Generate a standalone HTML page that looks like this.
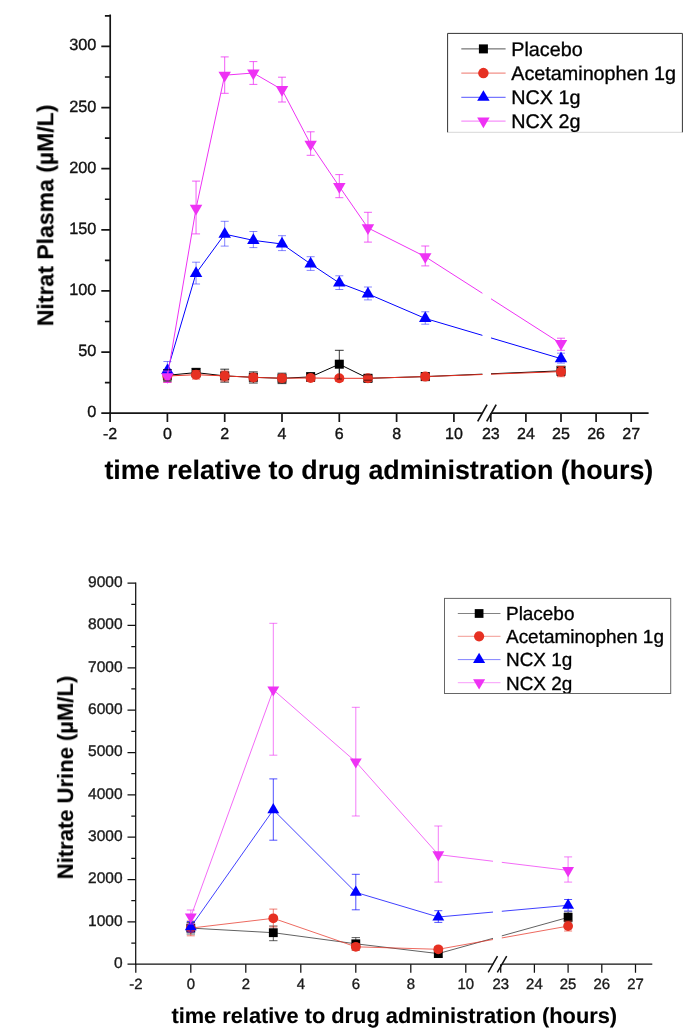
<!DOCTYPE html>
<html><head><meta charset="utf-8"><title>Nitrate plasma / urine</title>
<style>
html,body{margin:0;padding:0;background:#fff;}
body{width:685px;height:1030px;overflow:hidden;font-family:"Liberation Sans",sans-serif;}
svg{display:block;}
text{text-rendering:geometricPrecision;stroke:#111;stroke-width:0.35px;paint-order:stroke fill;}
text[font-weight=bold]{stroke-width:0.12px;}
</style></head><body>
<svg width="685" height="1030" viewBox="0 0 685 1030">
<defs><filter id="soft" filterUnits="userSpaceOnUse" x="0" y="0" width="685" height="1030" color-interpolation-filters="sRGB"><feGaussianBlur stdDeviation="0.38"/></filter></defs>
<rect width="685" height="1030" fill="#fff"/>
<g filter="url(#soft)">
<g stroke="#151515" stroke-width="1.7" fill="none" stroke-linecap="butt">
<path d="M110.2 14.6V414"/>
<path d="M109.35 413.15H482.4M491 413.15H648.6"/>
<path d="M101.3 413.15H110.2M101.3 352.03H110.2M101.3 290.92H110.2M101.3 229.8H110.2M101.3 168.69H110.2M101.3 107.57H110.2M101.3 46.46H110.2M104.9 382.59H110.2M104.9 321.48H110.2M104.9 260.36H110.2M104.9 199.25H110.2M104.9 138.13H110.2M104.9 77.02H110.2M104.9 15.9H110.2M110.1 413.15V421.95M167.4 413.15V421.95M224.7 413.15V421.95M282 413.15V421.95M339.3 413.15V421.95M396.6 413.15V421.95M453.9 413.15V421.95M490.8 413.15V421.95M525.9 413.15V421.95M561 413.15V421.95M596.1 413.15V421.95M631.2 413.15V421.95"/>
<path d="M477.7 421.4L487.1 404.7M486.7 421.4L496.2 404.7" stroke-width="1.7"/>
</g>
<g font-family="Liberation Sans, sans-serif" font-size="16px" fill="#111">
<text x="96.3" y="417.15" text-anchor="end" font-size="16.3px">0</text>
<text x="96.3" y="356.03" text-anchor="end" font-size="16.3px">50</text>
<text x="96.3" y="294.92" text-anchor="end" font-size="16.3px">100</text>
<text x="96.3" y="233.8" text-anchor="end" font-size="16.3px">150</text>
<text x="96.3" y="172.69" text-anchor="end" font-size="16.3px">200</text>
<text x="96.3" y="111.57" text-anchor="end" font-size="16.3px">250</text>
<text x="96.3" y="50.46" text-anchor="end" font-size="16.3px">300</text>
<text x="110.1" y="439.2" text-anchor="middle">-2</text>
<text x="167.4" y="439.2" text-anchor="middle">0</text>
<text x="224.7" y="439.2" text-anchor="middle">2</text>
<text x="282" y="439.2" text-anchor="middle">4</text>
<text x="339.3" y="439.2" text-anchor="middle">6</text>
<text x="396.6" y="439.2" text-anchor="middle">8</text>
<text x="453.9" y="439.2" text-anchor="middle">10</text>
<text x="490.8" y="439.2" text-anchor="middle">23</text>
<text x="525.9" y="439.2" text-anchor="middle">24</text>
<text x="561" y="439.2" text-anchor="middle">25</text>
<text x="596.1" y="439.2" text-anchor="middle">26</text>
<text x="631.2" y="439.2" text-anchor="middle">27</text>
</g>
<text x="104.4" y="478.5" font-family="Liberation Sans, sans-serif" font-weight="bold" font-size="26.85px" fill="#000">time relative to drug administration (hours)</text>
<text transform="translate(53.3 326.2) rotate(-90)" font-family="Liberation Sans, sans-serif" font-weight="bold" font-size="23px" fill="#000">Nitrat Plasma (µM/L)</text>
<path d="M167.4 375.3L196.05 372.6M196.05 372.6L224.7 375.9M224.7 375.9L253.35 377.3M253.35 377.3L282 378.3M282 378.3L310.65 376.9M310.65 376.9L339.3 364.2M339.3 364.2L367.95 378.3M367.95 378.3L425.25 376.6M425.25 376.6L482.4 374.16M491 373.79L561 370.8" stroke="#000000" stroke-width="1.0" fill="none" stroke-opacity="1.0"/>
<path d="M167.4 369.6V380.9M163 369.6H171.8M163 380.9H171.8M196.05 368.3V377M191.65 368.3H200.45M191.65 377H200.45M224.7 369.2V382.1M220.3 369.2H229.1M220.3 382.1H229.1M253.35 371.9V383M248.95 371.9H257.75M248.95 383H257.75M282 373.2V383.6M277.6 373.2H286.4M277.6 383.6H286.4M310.65 372.6V381.4M306.25 372.6H315.05M306.25 381.4H315.05M339.3 350.3V379.6M334.9 350.3H343.7M334.9 379.6H343.7M367.95 375V381.5M363.55 375H372.35M363.55 381.5H372.35M425.25 373V380M420.85 373H429.65M420.85 380H429.65M561 366.2V375.5M556.6 366.2H565.4M556.6 375.5H565.4" stroke="#000000" stroke-width="0.8" fill="none" stroke-opacity="1.0"/>
<rect x="162.9" y="370.8" width="9" height="9" fill="#000000"/>
<rect x="191.55" y="368.1" width="9" height="9" fill="#000000"/>
<rect x="220.2" y="371.4" width="9" height="9" fill="#000000"/>
<rect x="248.85" y="372.8" width="9" height="9" fill="#000000"/>
<rect x="277.5" y="373.8" width="9" height="9" fill="#000000"/>
<rect x="306.15" y="372.4" width="9" height="9" fill="#000000"/>
<rect x="334.8" y="359.7" width="9" height="9" fill="#000000"/>
<rect x="363.45" y="373.8" width="9" height="9" fill="#000000"/>
<rect x="420.75" y="372.1" width="9" height="9" fill="#000000"/>
<rect x="556.5" y="366.3" width="9" height="9" fill="#000000"/>
<path d="M167.4 376L196.05 374.7M196.05 374.7L224.7 375.9M224.7 375.9L253.35 377.4M253.35 377.4L282 378.2M282 378.2L310.65 378M310.65 378L339.3 378.3M339.3 378.3L367.95 378.3M367.95 378.3L425.25 376.6M425.25 376.6L482.4 374.5M491 374.18L561 371.6" stroke="#e63022" stroke-width="1.0" fill="none" stroke-opacity="1.0"/>
<path d="M167.4 371V382.3M163.4 371H171.4M163.4 382.3H171.4M196.05 370.5V379M192.05 370.5H200.05M192.05 379H200.05M224.7 371V381M220.7 371H228.7M220.7 381H228.7M253.35 374V380.8M249.35 374H257.35M249.35 380.8H257.35M282 374.5V381.8M278 374.5H286M278 381.8H286M310.65 375V381M306.65 375H314.65M306.65 381H314.65M339.3 375.5V381.5M335.3 375.5H343.3M335.3 381.5H343.3M367.95 375.5V381.5M363.95 375.5H371.95M363.95 381.5H371.95M425.25 373.5V380M421.25 373.5H429.25M421.25 380H429.25M561 366.5V376.7M557 366.5H565M557 376.7H565" stroke="#e63022" stroke-width="0.8" fill="none" stroke-opacity="1.0"/>
<circle cx="167.4" cy="376" r="5" fill="#e63022"/>
<circle cx="196.05" cy="374.7" r="5" fill="#e63022"/>
<circle cx="224.7" cy="375.9" r="5" fill="#e63022"/>
<circle cx="253.35" cy="377.4" r="5" fill="#e63022"/>
<circle cx="282" cy="378.2" r="5" fill="#e63022"/>
<circle cx="310.65" cy="378" r="5" fill="#e63022"/>
<circle cx="339.3" cy="378.3" r="5" fill="#e63022"/>
<circle cx="367.95" cy="378.3" r="5" fill="#e63022"/>
<circle cx="425.25" cy="376.6" r="5" fill="#e63022"/>
<circle cx="561" cy="371.6" r="5" fill="#e63022"/>
<path d="M339.3 369V379M336.8 379H341.8M363.95 374.8H371.95M363.95 380.2H371.95" stroke="#000" stroke-width="0.9" stroke-opacity="0.65" fill="none"/>
<path d="M167.4 370.55L196.05 273.35M196.05 273.35L224.7 234.15M224.7 234.15L253.35 240.35M253.35 240.35L282 244M282 244L310.65 263.95M310.65 263.95L339.3 282.95M339.3 282.95L367.95 293.85M367.95 293.85L425.25 318.45M425.25 318.45L482.4 335.37M491 337.92L561 358.65" stroke="#0000ff" stroke-width="1.0" fill="none" stroke-opacity="1.0"/>
<path d="M167.4 361.5V378.5M163.4 361.5H171.4M163.4 378.5H171.4M196.05 262.2V284M192.05 262.2H200.05M192.05 284H200.05M224.7 221.3V246.1M220.7 221.3H228.7M220.7 246.1H228.7M253.35 231.5V247.6M249.35 231.5H257.35M249.35 247.6H257.35M282 235.7V250.6M278 235.7H286M278 250.6H286M310.65 256.7V270.4M306.65 256.7H314.65M306.65 270.4H314.65M339.3 275.8V289.5M335.3 275.8H343.3M335.3 289.5H343.3M367.95 287V299.9M363.95 287H371.95M363.95 299.9H371.95M425.25 311.8V324.2M421.25 311.8H429.25M421.25 324.2H429.25M561 353.2V363.1M557 353.2H565M557 363.1H565" stroke="#0000ff" stroke-width="0.8" fill="none" stroke-opacity="0.6"/>
<path d="M167.4 363.42L173.65 374.12L161.15 374.12Z" fill="#0000ff"/>
<path d="M196.05 266.22L202.3 276.92L189.8 276.92Z" fill="#0000ff"/>
<path d="M224.7 227.02L230.95 237.72L218.45 237.72Z" fill="#0000ff"/>
<path d="M253.35 233.22L259.6 243.92L247.1 243.92Z" fill="#0000ff"/>
<path d="M282 236.87L288.25 247.57L275.75 247.57Z" fill="#0000ff"/>
<path d="M310.65 256.82L316.9 267.52L304.4 267.52Z" fill="#0000ff"/>
<path d="M339.3 275.82L345.55 286.52L333.05 286.52Z" fill="#0000ff"/>
<path d="M367.95 286.72L374.2 297.42L361.7 297.42Z" fill="#0000ff"/>
<path d="M425.25 311.32L431.5 322.02L419 322.02Z" fill="#0000ff"/>
<path d="M561 351.52L567.25 362.22L554.75 362.22Z" fill="#0000ff"/>
<path d="M167.4 376.7L196.05 208.4M196.05 208.4L224.7 75.2M224.7 75.2L253.35 73M253.35 73L282 89.6M282 89.6L310.65 144.2M310.65 144.2L339.3 186.5M339.3 186.5L367.95 227.9M367.95 227.9L425.25 256.7M425.25 256.7L482.4 293.28M491 298.79L561 343.6" stroke="#ee32f4" stroke-width="1.0" fill="none" stroke-opacity="1.0"/>
<path d="M167.4 371V382.5M163.4 371H171.4M163.4 382.5H171.4M196.05 181.1V233.9M192.05 181.1H200.05M192.05 233.9H200.05M224.7 56.9V93.3M220.7 56.9H228.7M220.7 93.3H228.7M253.35 61.6V84.4M249.35 61.6H257.35M249.35 84.4H257.35M282 77.2V102M278 77.2H286M278 102H286M310.65 131.8V155.3M306.65 131.8H314.65M306.65 155.3H314.65M339.3 174.6V197.7M335.3 174.6H343.3M335.3 197.7H343.3M367.95 212.3V242.1M363.95 212.3H371.95M363.95 242.1H371.95M425.25 246V265.9M421.25 246H429.25M421.25 265.9H429.25M561 338.2V350.3M557 338.2H565M557 350.3H565" stroke="#ee32f4" stroke-width="0.8" fill="none" stroke-opacity="1.0"/>
<path d="M167.4 383.83L173.65 373.13L161.15 373.13Z" fill="#ee32f4"/>
<path d="M196.05 215.53L202.3 204.83L189.8 204.83Z" fill="#ee32f4"/>
<path d="M224.7 82.33L230.95 71.63L218.45 71.63Z" fill="#ee32f4"/>
<path d="M253.35 80.13L259.6 69.43L247.1 69.43Z" fill="#ee32f4"/>
<path d="M282 96.73L288.25 86.03L275.75 86.03Z" fill="#ee32f4"/>
<path d="M310.65 151.33L316.9 140.63L304.4 140.63Z" fill="#ee32f4"/>
<path d="M339.3 193.63L345.55 182.93L333.05 182.93Z" fill="#ee32f4"/>
<path d="M367.95 235.03L374.2 224.33L361.7 224.33Z" fill="#ee32f4"/>
<path d="M425.25 263.83L431.5 253.13L419 253.13Z" fill="#ee32f4"/>
<path d="M561 350.73L567.25 340.03L554.75 340.03Z" fill="#ee32f4"/>
<path d="M163.4 369.8H171.4M163.4 381H171.4" stroke="#000" stroke-width="0.9" stroke-opacity="0.8"/>
<clipPath id="c1"><rect x="447.6" y="33.4" width="234.8" height="98.9"/></clipPath>
<rect x="447.6" y="33.4" width="234.8" height="98.9" fill="#fff" stroke="none"/>
<g clip-path="url(#c1)">
<path d="M461.3 48.9H505.6" stroke="#000000" stroke-width="0.9" stroke-opacity="0.75"/>
<rect x="478.9" y="44.4" width="9" height="9" fill="#000000"/>
<text x="511.3" y="55.7" font-family="Liberation Sans, sans-serif" font-size="19.75px" fill="#000">Placebo</text>
<path d="M461.3 73.1H505.6" stroke="#e63022" stroke-width="0.9" stroke-opacity="0.75"/>
<circle cx="483.4" cy="73.1" r="5.25" fill="#e63022"/>
<text x="511.3" y="79.7" font-family="Liberation Sans, sans-serif" font-size="19.75px" fill="#000">Acetaminophen 1g</text>
<path d="M461.3 97.3H505.6" stroke="#0000ff" stroke-width="0.9" stroke-opacity="0.75"/>
<path d="M483.4 90.17L489.65 100.87L477.15 100.87Z" fill="#0000ff"/>
<text x="511.3" y="103.8" font-family="Liberation Sans, sans-serif" font-size="19.75px" fill="#000">NCX 1g</text>
<path d="M461.3 121.1H505.6" stroke="#ee32f4" stroke-width="0.9" stroke-opacity="0.75"/>
<path d="M483.4 128.23L489.65 117.53L477.15 117.53Z" fill="#ee32f4"/>
<text x="511.3" y="127.9" font-family="Liberation Sans, sans-serif" font-size="19.75px" fill="#000">NCX 2g</text>
</g>
<path d="M447.6 132.3V33.4H682.4V132.3" fill="none" stroke="#333" stroke-width="1"/><path d="M447.6 132.3H682.4" fill="none" stroke="#000" stroke-width="1" stroke-opacity="0.16"/>
<g stroke="#111" stroke-width="1.25" fill="none">
<path d="M135.7 582.52V964.83"/>
<path d="M135.07 964.2H493.2M501.6 964.2H652.3"/>
<path d="M127.5 964.2H135.7M127.5 921.86H135.7M127.5 879.52H135.7M127.5 837.18H135.7M127.5 794.84H135.7M127.5 752.5H135.7M127.5 710.16H135.7M127.5 667.82H135.7M127.5 625.48H135.7M127.5 583.14H135.7M131.3 943.03H135.7M131.3 900.69H135.7M131.3 858.35H135.7M131.3 816.01H135.7M131.3 773.67H135.7M131.3 731.33H135.7M131.3 688.99H135.7M131.3 646.65H135.7M131.3 604.31H135.7M135.8 964.2V972.7M190.8 964.2V972.7M245.8 964.2V972.7M300.8 964.2V972.7M355.8 964.2V972.7M410.8 964.2V972.7M465.8 964.2V972.7M500.7 964.2V972.7M534.4 964.2V972.7M568.1 964.2V972.7M601.8 964.2V972.7M635.5 964.2V972.7"/>
<path d="M488.2 972.4L497.5 956.2M497.3 972.4L506.7 956.2" stroke-width="1.5"/>
</g>
<g font-family="Liberation Sans, sans-serif" font-size="14.9px" fill="#1a1a1a">
<text x="122.5" y="968" text-anchor="end" font-size="15.5px">0</text>
<text x="122.5" y="925.66" text-anchor="end" font-size="15.5px">1000</text>
<text x="122.5" y="883.32" text-anchor="end" font-size="15.5px">2000</text>
<text x="122.5" y="840.98" text-anchor="end" font-size="15.5px">3000</text>
<text x="122.5" y="798.64" text-anchor="end" font-size="15.5px">4000</text>
<text x="122.5" y="756.3" text-anchor="end" font-size="15.5px">5000</text>
<text x="122.5" y="713.96" text-anchor="end" font-size="15.5px">6000</text>
<text x="122.5" y="671.62" text-anchor="end" font-size="15.5px">7000</text>
<text x="122.5" y="629.28" text-anchor="end" font-size="15.5px">8000</text>
<text x="122.5" y="586.94" text-anchor="end" font-size="15.5px">9000</text>
<text x="135.8" y="989.4" text-anchor="middle">-2</text>
<text x="190.8" y="989.4" text-anchor="middle">0</text>
<text x="245.8" y="989.4" text-anchor="middle">2</text>
<text x="300.8" y="989.4" text-anchor="middle">4</text>
<text x="355.8" y="989.4" text-anchor="middle">6</text>
<text x="410.8" y="989.4" text-anchor="middle">8</text>
<text x="465.8" y="989.4" text-anchor="middle">10</text>
<text x="500.7" y="989.4" text-anchor="middle">23</text>
<text x="534.4" y="989.4" text-anchor="middle">24</text>
<text x="568.1" y="989.4" text-anchor="middle">25</text>
<text x="601.8" y="989.4" text-anchor="middle">26</text>
<text x="635.5" y="989.4" text-anchor="middle">27</text>
</g>
<text x="171.4" y="1022.6" font-family="Liberation Sans, sans-serif" font-weight="bold" font-size="21.81px" fill="#000">time relative to drug administration (hours)</text>
<text transform="translate(72.9 879.3) rotate(-90)" font-family="Liberation Sans, sans-serif" font-weight="bold" font-size="22.03px" fill="#000">Nitrate Urine (µM/L)</text>
<path d="M190.8 928.1L273.3 932.7M273.3 932.7L355.8 943.8M355.8 943.8L438.3 953.6M438.3 953.6L493 938.34M501.8 935.89L568.1 917.4" stroke="#000000" stroke-width="1.0" fill="none" stroke-opacity="0.62"/>
<path d="M190.8 922.5V934M186.6 922.5H195M186.6 934H195M273.3 926V940.7M269.1 926H277.5M269.1 940.7H277.5M355.8 937.6V950M351.6 937.6H360M351.6 950H360M438.3 950V957M434.1 950H442.5M434.1 957H442.5M568.1 912V923M563.9 912H572.3M563.9 923H572.3" stroke="#000000" stroke-width="0.9" fill="none" stroke-opacity="0.7"/>
<rect x="186.39" y="923.69" width="8.82" height="8.82" fill="#000000"/>
<rect x="268.89" y="928.29" width="8.82" height="8.82" fill="#000000"/>
<rect x="351.39" y="939.39" width="8.82" height="8.82" fill="#000000"/>
<rect x="433.89" y="949.19" width="8.82" height="8.82" fill="#000000"/>
<rect x="563.69" y="912.99" width="8.82" height="8.82" fill="#000000"/>
<path d="M190.8 928.1L273.3 918.3M273.3 918.3L355.8 946.8M355.8 946.8L438.3 949.3M438.3 949.3L493 939.52M501.8 937.95L568.1 926.1" stroke="#e63022" stroke-width="1.0" fill="none" stroke-opacity="0.72"/>
<path d="M190.8 921V935.8M186.8 921H194.8M186.8 935.8H194.8M273.3 909.1V927M269.3 909.1H277.3M269.3 927H277.3M355.8 943.5V950M351.8 943.5H359.8M351.8 950H359.8M438.3 946.5V952M434.3 946.5H442.3M434.3 952H442.3M568.1 921V931M564.1 921H572.1M564.1 931H572.1" stroke="#e63022" stroke-width="0.9" fill="none" stroke-opacity="0.7"/>
<circle cx="190.8" cy="928.1" r="4.9" fill="#e63022"/>
<circle cx="273.3" cy="918.3" r="4.9" fill="#e63022"/>
<circle cx="355.8" cy="946.8" r="4.9" fill="#e63022"/>
<circle cx="438.3" cy="949.3" r="4.9" fill="#e63022"/>
<circle cx="568.1" cy="926.1" r="4.9" fill="#e63022"/>
<path d="M190.8 926.9L273.3 809.9M273.3 809.9L355.8 892.4M355.8 892.4L438.3 917M438.3 917L493 912.07M501.8 911.28L568.1 905.3" stroke="#0000ff" stroke-width="1.0" fill="none" stroke-opacity="0.75"/>
<path d="M190.8 921.5V932M186.8 921.5H194.8M186.8 932H194.8M273.3 778.9V840.2M269.3 778.9H277.3M269.3 840.2H277.3M355.8 874.3V909.8M351.8 874.3H359.8M351.8 909.8H359.8M438.3 910.7V922.4M434.3 910.7H442.3M434.3 922.4H442.3M568.1 899.5V911M564.1 899.5H572.1M564.1 911H572.1" stroke="#0000ff" stroke-width="0.95" fill="none" stroke-opacity="0.72"/>
<path d="M190.8 920.12L196.74 930.29L184.86 930.29Z" fill="#0000ff"/>
<path d="M273.3 803.12L279.24 813.29L267.36 813.29Z" fill="#0000ff"/>
<path d="M355.8 885.62L361.74 895.79L349.86 895.79Z" fill="#0000ff"/>
<path d="M438.3 910.22L444.24 920.39L432.36 920.39Z" fill="#0000ff"/>
<path d="M568.1 898.52L574.04 908.69L562.16 908.69Z" fill="#0000ff"/>
<path d="M190.8 916.8L273.3 689.8M273.3 689.8L355.8 761.8M355.8 761.8L438.3 854.6M438.3 854.6L493 861.26M501.8 862.33L568.1 870.4" stroke="#ee32f4" stroke-width="1.0" fill="none" stroke-opacity="0.72"/>
<path d="M190.8 910V924M186.8 910H194.8M186.8 924H194.8M273.3 623.3V755.2M269.3 623.3H277.3M269.3 755.2H277.3M355.8 707.3V816M351.8 707.3H359.8M351.8 816H359.8M438.3 826V882.1M434.3 826H442.3M434.3 882.1H442.3M568.1 856.9V882.1M564.1 856.9H572.1M564.1 882.1H572.1" stroke="#ee32f4" stroke-width="0.9" fill="none" stroke-opacity="0.7"/>
<path d="M190.8 923.58L196.74 913.41L184.86 913.41Z" fill="#ee32f4"/>
<path d="M273.3 696.58L279.24 686.41L267.36 686.41Z" fill="#ee32f4"/>
<path d="M355.8 768.58L361.74 758.41L349.86 758.41Z" fill="#ee32f4"/>
<path d="M438.3 861.38L444.24 851.21L432.36 851.21Z" fill="#ee32f4"/>
<path d="M568.1 877.18L574.04 867.01L562.16 867.01Z" fill="#ee32f4"/>
<clipPath id="c2"><rect x="444.5" y="598.4" width="226.2" height="95.1"/></clipPath>
<rect x="444.5" y="598.4" width="226.2" height="95.1" fill="#fff" stroke="none"/>
<g clip-path="url(#c2)">
<path d="M457.8 613.5H500.5" stroke="#000000" stroke-width="0.9" stroke-opacity="0.55"/>
<rect x="474.74" y="609.13" width="8.73" height="8.73" fill="#000000"/>
<text x="506" y="620" font-family="Liberation Sans, sans-serif" font-size="18.95px" fill="#000">Placebo</text>
<path d="M457.8 636.3H500.5" stroke="#e63022" stroke-width="0.9" stroke-opacity="0.55"/>
<circle cx="479.1" cy="636.3" r="5.09" fill="#e63022"/>
<text x="506" y="643.1" font-family="Liberation Sans, sans-serif" font-size="18.95px" fill="#000">Acetaminophen 1g</text>
<path d="M457.8 659.6H500.5" stroke="#0000ff" stroke-width="0.9" stroke-opacity="0.55"/>
<path d="M479.1 652.68L485.16 663.06L473.04 663.06Z" fill="#0000ff"/>
<text x="506" y="666.3" font-family="Liberation Sans, sans-serif" font-size="18.95px" fill="#000">NCX 1g</text>
<path d="M457.8 682.7H500.5" stroke="#ee32f4" stroke-width="0.9" stroke-opacity="0.55"/>
<path d="M479.1 689.62L485.16 679.24L473.04 679.24Z" fill="#ee32f4"/>
<text x="506" y="689.5" font-family="Liberation Sans, sans-serif" font-size="18.95px" fill="#000">NCX 2g</text>
</g>
<rect x="444.5" y="598.4" width="226.2" height="95.1" fill="none" stroke="#666" stroke-width="1"/>
</g>
</svg>
</body></html>
